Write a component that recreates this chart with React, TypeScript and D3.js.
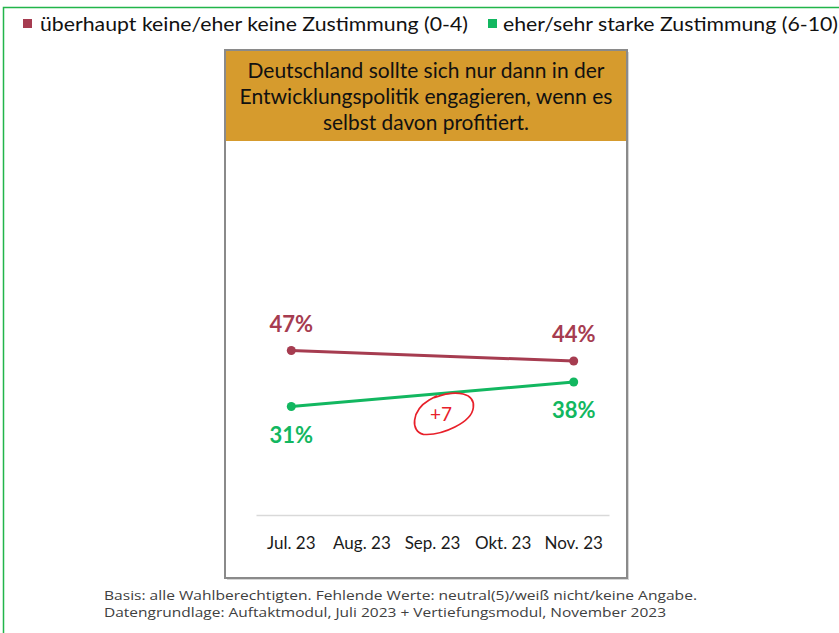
import { useEffect, useRef } from "react";
import * as d3 from "d3";

const months = ["Jul. 23", "Aug. 23", "Sep. 23", "Okt. 23", "Nov. 23"];
const disagree = [47, null, null, null, 44];
const agree = [31, null, null, null, 38];
const legendLabels = [
  "überhaupt keine/eher keine Zustimmung (0-4)",
  "eher/sehr starke Zustimmung (6-10)",
];
const titleLines = [
  "Deutschland sollte sich nur dann in der",
  "Entwicklungspolitik engagieren, wenn es",
  "selbst davon profitiert.",
];
const footnotes = [
  "Basis: alle Wahlberechtigten. Fehlende Werte: neutral(5)/weiß nicht/keine Angabe.",
  "Datengrundlage: Auftaktmodul, Juli 2023 + Vertiefungsmodul, November 2023",
];
const changeNote = "+7";

const RED = "#a63c50";
const GREEN = "#12b760";

export default function App() {
  const svgRef = useRef(null);

  useEffect(() => {
    const svg = d3.select(svgRef.current);
    svg.selectAll("*").remove();

    const width = 839;
    const height = 633;
    svg.attr("width", width).attr("height", height);

    const fit = (sel, w) =>
      sel.attr("textLength", w).attr("lengthAdjust", "spacingAndGlyphs");

    // outer green frame (runs off the right/bottom edge)
    svg
      .append("rect")
      .attr("x", 3.5)
      .attr("y", 7.5)
      .attr("width", 900)
      .attr("height", 700)
      .attr("fill", "white")
      .attr("stroke", "#22b54a")
      .attr("stroke-width", 1.5);

    // legend
    const legendX = [{ sq: 23, tx: 40, w: 428, c: RED }, { sq: 488, tx: 503, w: 335, c: GREEN }];
    legendLabels.forEach((label, i) => {
      const l = legendX[i];
      svg
        .append("rect")
        .attr("x", l.sq)
        .attr("y", 19)
        .attr("width", 9)
        .attr("height", 9)
        .attr("fill", l.c);
      svg
        .append("text")
        .attr("x", l.tx)
        .attr("y", 31)
        .attr("font-family", "Lato, 'Open Sans', sans-serif")
        .attr("font-size", 19)
        .attr("fill", "#111")
        .text(label)
        .call(fit, l.w);
    });

    // panel
    const panel = { x: 225, y: 50, w: 402, h: 528 };
    svg
      .append("rect")
      .attr("x", panel.x + 2)
      .attr("y", panel.y + 2)
      .attr("width", panel.w)
      .attr("height", panel.h)
      .attr("fill", "#d6d6d6");
    svg
      .append("rect")
      .attr("x", panel.x)
      .attr("y", panel.y)
      .attr("width", panel.w)
      .attr("height", panel.h)
      .attr("fill", "white");
    svg
      .append("rect")
      .attr("x", panel.x)
      .attr("y", panel.y)
      .attr("width", panel.w)
      .attr("height", 91)
      .attr("fill", "#d69b2d");
    svg
      .append("rect")
      .attr("x", panel.x)
      .attr("y", panel.y)
      .attr("width", panel.w)
      .attr("height", panel.h)
      .attr("fill", "none")
      .attr("stroke", "#8a8a8a")
      .attr("stroke-width", 2);

    const titleW = [357, 373, 206];
    titleLines.forEach((line, i) => {
      svg
        .append("text")
        .attr("x", panel.x + panel.w / 2)
        .attr("y", 78 + i * 26)
        .attr("text-anchor", "middle")
        .attr("font-family", "Lato, 'Open Sans', sans-serif")
        .attr("font-size", 20.5)
        .attr("fill", "#111")
        .text(line)
        .call(fit, titleW[i]);
    });

    // scales
    const x = d3.scaleBand().domain(months).range([256, 609]);
    const y = d3.scaleLinear().domain([0, 100]).range([515, 165]);
    const cx = (m) => x(m) + x.bandwidth() / 2;

    // axis
    const xAxis = d3.axisBottom(x).tickSize(0).tickPadding(22);
    svg
      .append("g")
      .attr("transform", `translate(0, ${y(0)})`)
      .call(xAxis)
      .call((g) => g.select(".domain").attr("stroke", "#d9d9d9").attr("stroke-width", 1.5))
      .call((g) =>
        g
          .selectAll("text")
          .attr("font-family", "Lato, 'Open Sans', sans-serif")
          .attr("font-size", 17)
          .attr("fill", "#1a1a1a")
      );

    const series = [
      { values: disagree, color: RED, above: true },
      { values: agree, color: GREEN, above: false },
    ];

    const line = d3
      .line()
      .x((d) => cx(d.m))
      .y((d) => y(d.v));

    series.forEach((s) => {
      const pts = months
        .map((m, i) => ({ m, v: s.values[i] }))
        .filter((d) => d.v != null);

      svg
        .append("path")
        .datum(pts)
        .attr("d", line)
        .attr("fill", "none")
        .attr("stroke", s.color)
        .attr("stroke-width", 3);

      svg
        .selectAll(null)
        .data(pts)
        .enter()
        .append("circle")
        .attr("cx", (d) => cx(d.m))
        .attr("cy", (d) => y(d.v))
        .attr("r", 4.5)
        .attr("fill", s.color);

      svg
        .selectAll(null)
        .data(pts)
        .enter()
        .append("text")
        .attr("x", (d) => cx(d.m))
        .attr("y", (d) => y(d.v) + (s.above ? -19 : 36))
        .attr("text-anchor", "middle")
        .attr("font-family", "Lato, 'Open Sans', sans-serif")
        .attr("font-weight", "bold")
        .attr("font-size", 22)
        .attr("fill", s.color)
        .text((d) => `${d.v}%`);
    });

    // hand-drawn "+7" note
    const note = svg.append("g").attr("transform", "translate(443, 414) rotate(-14)");
    note
      .append("path")
      .attr(
        "d",
        "M -4 -18 C 20 -21 36 -12 31 1 C 26 15 -6 21 -24 15 C -36 9 -30 -11 -10 -17 L -2 -19"
      )
      .attr("fill", "none")
      .attr("stroke", "#e8202a")
      .attr("stroke-width", 1.7)
      .attr("stroke-linecap", "round");
    svg
      .append("text")
      .attr("x", 441)
      .attr("y", 421)
      .attr("text-anchor", "middle")
      .attr("font-family", "Lato, 'Open Sans', sans-serif")
      .attr("font-size", 19)
      .attr("fill", "#e8202a")
      .text(changeNote);

    // footnotes
    const footW = [593, 562];
    footnotes.forEach((t, i) => {
      svg
        .append("text")
        .attr("x", 104)
        .attr("y", 600 + i * 16.5)
        .attr("font-family", "'Open Sans', sans-serif")
        .attr("font-size", 12.5)
        .attr("fill", "#404040")
        .text(t)
        .call(fit, footW[i]);
    });
  }, []);

  return (
    <svg
      ref={svgRef}
      style={{ position: "absolute", left: 0, top: 0, display: "block" }}
    ></svg>
  );
}
